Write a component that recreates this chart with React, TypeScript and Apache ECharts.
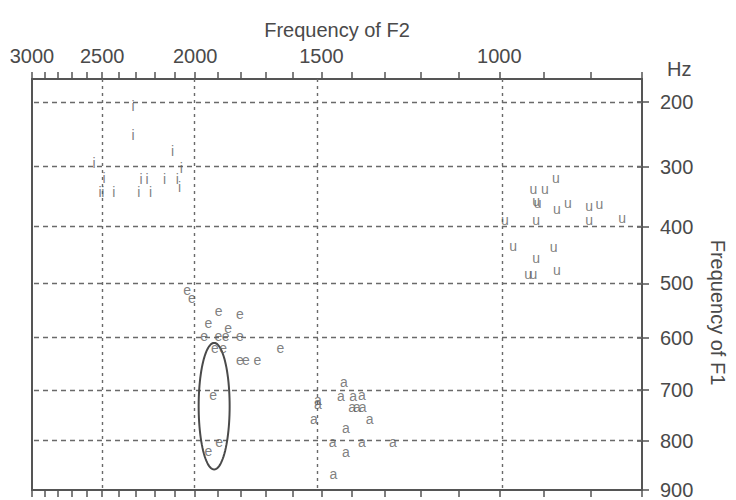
import React, { useEffect, useRef } from "react";
import * as echarts from "echarts";

// ---- axis ranges (Hz) ----
const F2_MIN = 700;
const F2_MAX = 3000;
const F1_MIN = 167;
const F1_MAX = 900;

// ---- ticks / labels / grid (Hz) ----
const F2_TICKS = [3000, 2900, 2800, 2700, 2600, 2500, 2400, 2300, 2200, 2100, 2000, 1900, 1800, 1700, 1600, 1500, 1400, 1300, 1200, 1100, 1000, 900, 800, 700];
const F2_LABELS = [3000, 2500, 2000, 1500, 1000];
const F2_GRID = [2500, 2000, 1500, 1000];
const F1_TICKS = [200, 300, 400, 500, 600, 700, 800, 900];
const F1_GRID = [200, 300, 400, 500, 600, 700, 800];

// ---- vowel tokens [F2, F1] in Hz ----
const I_POINTS: [number, number][] = [
  [2317, 206], [2317, 250], [2109, 275], [2551, 295], [2066, 302],
  [2489, 318], [2273, 321], [2241, 321], [2149, 321], [2085, 320],
  [2514, 342], [2496, 342], [2430, 342], [2285, 342], [2222, 342], [2075, 334],
];
const E_POINTS: [number, number][] = [
  [2038, 512], [2015, 527], [1894, 550], [1804, 556], [1940, 572], [1853, 582],
  [1959, 597], [1895, 597], [1864, 597], [1804, 597], [1911, 620], [1875, 620],
  [1804, 642], [1780, 642], [1734, 642], [1646, 620], [1918, 709], [1892, 803], [1940, 821],
];
const A_POINTS: [number, number][] = [
  [1426, 684], [1436, 712], [1397, 712], [1370, 710], [1512, 720], [1512, 728],
  [1400, 734], [1385, 734], [1367, 734], [1526, 757], [1346, 757], [1420, 775],
  [1463, 803], [1370, 803], [1277, 803], [1420, 823], [1460, 868],
];
const U_POINTS: [number, number][] = [
  [873, 318], [922, 336], [897, 336], [916, 357], [913, 360], [871, 370], [848, 360],
  [804, 365], [783, 362], [987, 388], [916, 388], [804, 388], [738, 386],
  [968, 434], [878, 436], [916, 455], [934, 483], [922, 483], [871, 476],
];
// ellipse bounding box: [F2 left, F1 top, F2 right, F1 bottom]
const ELLIPSE_BOX: [number, number, number, number][] = [[1984, 610, 1847, 858]];

// ---- scale transforms (F2: calibrated log scale, F1: compressed) ----
const U0 = 3.16;
const C = 0.574;
const P = 0.78;
const tx = (f: number) => {
  const d = Math.log10(f) - U0;
  return d - C * d * d * d;
};
const ix = (v: number) => {
  let d = v;
  for (let k = 0; k < 30; k++) {
    const g = d - C * d * d * d - v;
    const dg = 1 - 3 * C * d * d;
    d -= g / dg;
  }
  return Math.pow(10, d + U0);
};
const ty = (f: number) => Math.pow(f, P);
const iy = (v: number) => Math.pow(v, 1 / P);

const FONT = "Liberation Sans";
const TEXT = "#4a4a4a";
const LINE = "#555";
const GRID = "#6a6a6a";
const FS = 20;

function letterSeries(letter: string, pts: [number, number][], extra: any = {}) {
  return {
    type: "scatter",
    name: letter,
    xAxisIndex: 0,
    yAxisIndex: 0,
    data: pts.map(([f2, f1]) => [tx(f2), ty(f1)]),
    symbol: "circle",
    symbolSize: 1,
    itemStyle: { color: "rgba(0,0,0,0)" },
    label: {
      show: true,
      position: "inside",
      formatter: letter,
      fontSize: 14,
      color: "#5e5e5e",
      fontFamily: FONT,
    },
    silent: true,
    z: 5,
    ...extra,
  };
}

export default function App() {
  const ref = useRef<HTMLDivElement>(null);
  useEffect(() => {
    if (!ref.current) return;
    const chart = echarts.init(ref.current, undefined, { renderer: "svg" });
    const xCommon = {
      type: "value",
      inverse: true,
      min: tx(F2_MIN),
      max: tx(F2_MAX),
      splitLine: { show: false },
    };
    const yCommon = {
      type: "value",
      inverse: true,
      min: ty(F1_MIN),
      max: ty(F1_MAX),
      splitLine: { show: false },
    };
    const lineOn = { show: true, onZero: false, lineStyle: { color: LINE, width: 2 } };
    const lineOff = { show: false, onZero: false };
    const option: any = {
      animation: false,
      backgroundColor: "#ffffff",
      textStyle: { fontFamily: FONT },
      grid: { left: 32, right: 82, top: 79, bottom: 7, containLabel: false },
      xAxis: [
        {
          ...xCommon,
          position: "top",
          axisLine: lineOn,
          axisTick: {
            show: true,
            inside: false,
            length: 7,
            customValues: F2_TICKS.map(tx),
            lineStyle: { color: LINE, width: 1.5 },
          },
          axisLabel: {
            show: true,
            customValues: F2_LABELS.map(tx),
            formatter: (v: number) => String(Math.round(ix(v))),
            margin: 13,
            fontSize: FS,
            color: TEXT,
            fontFamily: FONT,
          },
          name: "Frequency of F2",
          nameLocation: "middle",
          nameGap: 39,
          nameTextStyle: { fontSize: FS, color: TEXT, fontFamily: FONT },
        },
        {
          ...xCommon,
          position: "bottom",
          axisLine: lineOn,
          axisTick: {
            show: true,
            inside: false,
            length: 7,
            customValues: F2_TICKS.map(tx),
            lineStyle: { color: LINE, width: 1.5 },
          },
          axisLabel: { show: false },
        },
        {
          ...xCommon,
          position: "top",
          axisLine: lineOff,
          axisTick: { show: false },
          axisLabel: { show: false },
          name: "Hz",
          nameLocation: "start",
          nameGap: 25,
          nameTextStyle: { fontSize: FS, color: TEXT, fontFamily: FONT, verticalAlign: "bottom" },
        },
      ],
      yAxis: [
        {
          ...yCommon,
          position: "right",
          axisLine: lineOn,
          axisTick: {
            show: true,
            inside: false,
            length: 7,
            customValues: F1_TICKS.map(ty),
            lineStyle: { color: LINE, width: 1.5 },
          },
          axisLabel: {
            show: true,
            customValues: F1_TICKS.map(ty),
            formatter: (v: number) => String(Math.round(iy(v))),
            margin: 18,
            fontSize: FS,
            color: TEXT,
            fontFamily: FONT,
          },
          name: "Frequency of F1",
          nameLocation: "middle",
          nameRotate: -90,
          nameGap: 66,
          nameTextStyle: { fontSize: FS, color: TEXT, fontFamily: FONT, padding: [0, 0, 0, 56] },
        },
        {
          ...yCommon,
          position: "left",
          axisLine: lineOn,
          axisTick: { show: false },
          axisLabel: { show: false },
        },
        {
          ...yCommon,
          position: "right",
          axisLine: lineOff,
          axisTick: {
            show: true,
            inside: true,
            length: 5,
            customValues: F1_TICKS.map(ty),
            lineStyle: { color: LINE, width: 1.5 },
          },
          axisLabel: { show: false },
        },
      ],
      series: [
        letterSeries("i", I_POINTS, {
          markLine: {
            silent: true,
            symbol: ["none", "none"],
            label: { show: false },
            z: 1,
            data: [
              ...F2_GRID.map((f) => ({
                xAxis: tx(f),
                lineStyle: { type: [3, 4], color: GRID, width: 1.4 },
              })),
              ...F1_GRID.map((f) => ({
                yAxis: ty(f),
                lineStyle: { type: [5, 4], color: GRID, width: 1.4 },
              })),
            ],
          },
        }),
        letterSeries("e", E_POINTS),
        letterSeries("a", A_POINTS),
        letterSeries("u", U_POINTS),
        {
          type: "custom",
          name: "ellipse",
          xAxisIndex: 0,
          yAxisIndex: 0,
          silent: true,
          z: 4,
          data: ELLIPSE_BOX.map(([l, t, r, b]) => [tx(l), ty(t), tx(r), ty(b)]),
          encode: { x: [0, 2], y: [1, 3] },
          renderItem: (params: any, api: any) => {
            const p1 = api.coord([api.value(0), api.value(1)]);
            const p2 = api.coord([api.value(2), api.value(3)]);
            const cx = (p1[0] + p2[0]) / 2;
            const cy = (p1[1] + p2[1]) / 2;
            const rx = Math.abs(p2[0] - p1[0]) / 2;
            const ry = Math.abs(p2[1] - p1[1]) / 2;
            const points: number[][] = [];
            for (let k = 0; k < 96; k++) {
              const t = (k / 96) * Math.PI * 2;
              points.push([cx + rx * Math.cos(t), cy + ry * Math.sin(t)]);
            }
            return {
              type: "polygon",
              shape: { points },
              style: { fill: "none", stroke: "#4a4a4a", lineWidth: 2 },
            };
          },
        },
      ],
    };
    chart.setOption(option);
    return () => chart.dispose();
  }, []);
  return (
    <div
      ref={ref}
      style={{ position: "fixed", left: 0, top: 0, width: 736, height: 500, background: "#fff" }}
    />
  );
}
